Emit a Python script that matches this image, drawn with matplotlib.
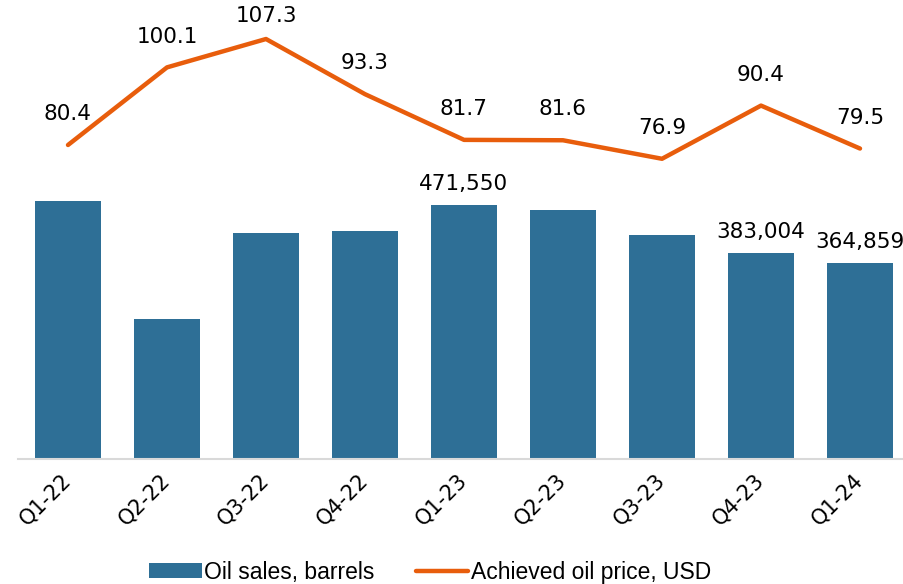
import matplotlib
matplotlib.use("Agg")
import matplotlib.pyplot as plt
import numpy as np

quarters = ["Q1-22", "Q2-22", "Q3-22", "Q4-22", "Q1-23", "Q2-23", "Q3-23", "Q4-23", "Q1-24"]
oil_sales = [479400, 260100, 420000, 423600, 471550, 462600, 416200, 383004, 364859]
oil_price = [80.4, 100.1, 107.3, 93.3, 81.7, 81.6, 76.9, 90.4, 79.5]
labelled_bars = ["Q1-23", "Q4-23", "Q1-24"]

bar_color = "#2e6f96"
line_color = "#e85d0c"
num_font = "DejaVu Sans"
plt.rcParams["font.family"] = ["Liberation Sans", "DejaVu Sans"]

fig = plt.figure(figsize=(9.04, 5.84), dpi=100)
ax = fig.add_axes([18.5 / 904, 1 - 459 / 584, 891 / 904, 459 / 584])
x = np.arange(len(quarters))

ax.bar(x, oil_sales, width=0.667, color=bar_color, label="Oil sales, barrels", zorder=2)
ax.set_xlim(-0.5, len(quarters) - 0.5)
ax.set_ylim(0, 853000)
for q, xi, v in zip(quarters, x, oil_sales):
    if q in labelled_bars:
        ax.annotate(f"{v:,}", (xi, v), xytext=(0, 8), textcoords="offset points",
                    ha="center", va="bottom", fontsize=15.5, family=num_font)

ax2 = ax.twinx()
ax2.plot(x, oil_price, color=line_color, lw=3.2, label="Achieved oil price, USD",
         solid_capstyle="round", solid_joinstyle="round")
ax2.set_ylim(0.7, 117.2)
price_labels = []
for xi, v in zip(x, oil_price):
    t = ax2.annotate(f"{v:.1f}", (xi, v), xytext=(0, 15), textcoords="offset points",
                     ha="center", va="bottom", fontsize=15.5, family=num_font)
    price_labels.append(t)

for a in (ax, ax2):
    for s in ["top", "right", "left"]:
        a.spines[s].set_visible(False)
    a.set_yticks([])
ax2.spines["bottom"].set_visible(False)
ax.spines["bottom"].set_color("#d9d9d9")
ax.spines["bottom"].set_linewidth(1.5)

ax.set_xticks(x)
ax.set_xticklabels(quarters, rotation=45, ha="right", va="center",
                   rotation_mode="anchor", fontsize=15, family=num_font)
ax.tick_params(axis="x", length=0, pad=13)

h1, l1 = ax.get_legend_handles_labels()
h2, l2 = ax2.get_legend_handles_labels()
fig.legend(h1 + h2, l1 + l2, loc="center", bbox_to_anchor=(430 / 904, 1 - 572 / 584),
           ncol=2, frameon=False, fontsize=16.5, handlelength=2.3, handleheight=0.6,
           handletextpad=0.1, columnspacing=1.8)

# keep price labels inside the figure, like the source does for the peak
fig.canvas.draw()
r = fig.canvas.get_renderer()
for t in price_labels:
    bb = t.get_window_extent(r)
    top_px = fig.bbox.height - 6
    if bb.y1 > top_px:
        dy = (bb.y1 - top_px) * 72 / fig.dpi
        t.xyann = (0, 15 - dy)

fig.savefig("out.png", dpi=100)
